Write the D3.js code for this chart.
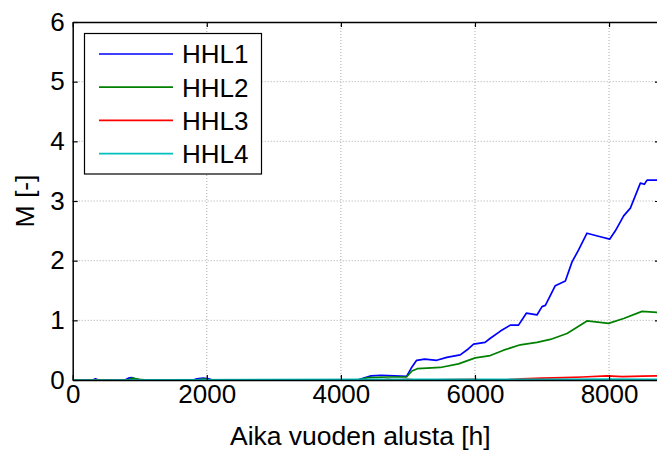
<!DOCTYPE html>
<html>
<head>
<meta charset="utf-8">
<script src="https://cdn.jsdelivr.net/npm/d3@7"></script>
<style>
  body { margin: 0; background: #fff; }
  text { font-family: "Liberation Sans", Arial, sans-serif; }
</style>
</head>
<body>
<div id="chart"></div>
<script>
const width = 657;
const height = 450;
const marginTop = 22;
const marginLeft = 72.7;
const plotRight = 660;
const plotBottom = 380;

const seriesNames = ["HHL1", "HHL2", "HHL3", "HHL4"];
const seriesColors = ["#0000ff", "#008000", "#ff0000", "#00bfbf"];
const xTicks = [0, 2000, 4000, 6000, 8000];
const yTicks = [0, 1, 2, 3, 4, 5, 6];

// [hour, M]
const hhl1 = [
  [0, 0], [300, 0], [340, 0.02], [380, 0], [780, 0], [830, 0.03], [880, 0.04], [930, 0.02], [980, 0],
  [1800, 0], [1850, 0.02], [1950, 0.03], [2030, 0.02], [2080, 0], [4250, 0], [4330, 0.03], [4450, 0.07],
  [4600, 0.08], [4800, 0.07], [4980, 0.06], [5050, 0.2], [5130, 0.33], [5250, 0.35], [5430, 0.33],
  [5580, 0.38], [5780, 0.42], [5900, 0.52], [5980, 0.6], [6150, 0.63], [6230, 0.7], [6380, 0.82],
  [6527, 0.92], [6650, 0.92], [6766, 1.12], [6925, 1.09], [7000, 1.23], [7050, 1.25], [7198, 1.58],
  [7348, 1.66], [7448, 1.98], [7546, 2.18], [7671, 2.46], [7870, 2.4], [8009, 2.36], [8094, 2.5],
  [8218, 2.75], [8318, 2.88], [8467, 3.3], [8527, 3.28], [8567, 3.35], [8760, 3.35]
];
const hhl2 = [
  [0, 0], [820, 0], [880, 0.03], [1000, 0.01], [1100, 0], [1850, 0], [1950, 0.02], [2050, 0],
  [4250, 0], [4400, 0.04], [4700, 0.05], [4980, 0.05], [5060, 0.15], [5140, 0.19], [5283, 0.2],
  [5482, 0.21], [5755, 0.27], [6004, 0.37], [6228, 0.41], [6427, 0.5], [6676, 0.59], [6925, 0.63],
  [7124, 0.68], [7373, 0.78], [7671, 0.99], [7994, 0.95], [8218, 1.03], [8492, 1.15], [8760, 1.13]
];
const hhl3 = [
  [0, 0], [4600, 0], [4700, 0.01], [4800, 0], [5000, 0.01], [5100, 0], [6000, 0.01], [6100, 0],
  [6500, 0.005], [6700, 0.02], [7000, 0.03], [7322, 0.04], [7600, 0.05], [7970, 0.07], [8200, 0.055],
  [8500, 0.065], [8760, 0.07]
];
const hhl4 = [
  [0, 0], [4400, 0.01], [5000, 0.01], [6000, 0.012], [7000, 0.01], [8000, 0.015], [8760, 0.01]
];
const allSeries = [hhl1, hhl2, hhl3, hhl4];

const x = d3.scaleLinear().domain([0, 8760]).range([marginLeft, plotRight]);
const y = d3.scaleLinear().domain([0, 6]).range([plotBottom, marginTop]);

const svg = d3.select("#chart")
  .append("svg")
    .attr("width", width)
    .attr("height", height);

svg.append("rect").attr("width", width).attr("height", height).attr("fill", "#fff");

svg.append("defs").append("clipPath").attr("id", "clip")
  .append("rect")
    .attr("x", marginLeft).attr("y", marginTop)
    .attr("width", plotRight - marginLeft).attr("height", plotBottom - marginTop);

// grid
svg.append("g")
  .selectAll("line")
  .data(xTicks.slice(1))
  .join("line")
    .attr("x1", d => x(d)).attr("x2", d => x(d))
    .attr("y1", marginTop).attr("y2", plotBottom)
    .attr("stroke", "#aaa").attr("stroke-dasharray", "1,2");
svg.append("g")
  .selectAll("line")
  .data(yTicks.slice(1, -1))
  .join("line")
    .attr("x1", marginLeft).attr("x2", plotRight)
    .attr("y1", d => y(d)).attr("y2", d => y(d))
    .attr("stroke", "#aaa").attr("stroke-dasharray", "1,2");

// lines
const line = d3.line()
  .x(d => x(d[0]))
  .y(d => y(d[1]));

svg.append("g")
  .attr("clip-path", "url(#clip)")
  .selectAll("path")
  .data(allSeries)
  .join("path")
    .attr("fill", "none")
    .attr("stroke", (d, i) => seriesColors[i])
    .attr("stroke-width", 1.7)
    .attr("stroke-linejoin", "round")
    .attr("d", line);

// axes (ticks inward, box)
const fmt = d3.format("d");
svg.append("g")
  .attr("transform", `translate(0,${plotBottom})`)
  .call(d3.axisBottom(x).tickValues(xTicks).tickFormat(fmt).tickSizeInner(-5).tickSizeOuter(0).tickPadding(5));
svg.append("g")
  .attr("transform", `translate(0,${marginTop})`)
  .call(d3.axisTop(x).tickValues(xTicks).tickSizeInner(-5).tickSizeOuter(0).tickFormat(""));
svg.append("g")
  .attr("transform", `translate(${marginLeft},0)`)
  .call(d3.axisLeft(y).tickValues(yTicks).tickFormat(fmt).tickSizeInner(-5).tickSizeOuter(0).tickPadding(8));
svg.append("g")
  .attr("transform", `translate(${plotRight},0)`)
  .call(d3.axisRight(y).tickValues(yTicks).tickSizeInner(-5).tickSizeOuter(0).tickFormat(""));

svg.selectAll(".domain").attr("stroke", "#000").attr("stroke-width", 1.5);
svg.selectAll(".tick line").attr("stroke", "#000").attr("stroke-width", 1.2);
svg.selectAll(".tick text").attr("font-size", 26).attr("fill", "#000")
  .attr("font-family", "Liberation Sans, Arial, sans-serif");

// axis labels
svg.append("text")
  .attr("x", (marginLeft + plotRight) / 2 - 6)
  .attr("y", 445)
  .attr("text-anchor", "middle")
  .attr("font-size", 26.5)
  .text("Aika vuoden alusta [h]");
svg.append("text")
  .attr("transform", "translate(34,201) rotate(-90)")
  .attr("text-anchor", "middle")
  .attr("font-size", 26.5)
  .text("M [-]");

// legend
const legend = svg.append("g");
legend.append("rect")
  .attr("x", 84.5).attr("y", 33.5).attr("width", 177).attr("height", 140.5)
  .attr("fill", "#fff").attr("stroke", "#000").attr("stroke-width", 1.2);
const rows = legend.selectAll("g.row")
  .data(seriesNames)
  .join("g")
    .attr("class", "row")
    .attr("transform", (d, i) => `translate(0,${54 + i * 33.2})`);
rows.append("line")
  .attr("x1", 99).attr("x2", 173)
  .attr("stroke", (d, i) => seriesColors[i]).attr("stroke-width", 1.7);
rows.append("text")
  .attr("x", 182)
  .attr("dy", "0.36em")
  .attr("font-size", 26)
  .text(d => d);
</script>
</body>
</html>
